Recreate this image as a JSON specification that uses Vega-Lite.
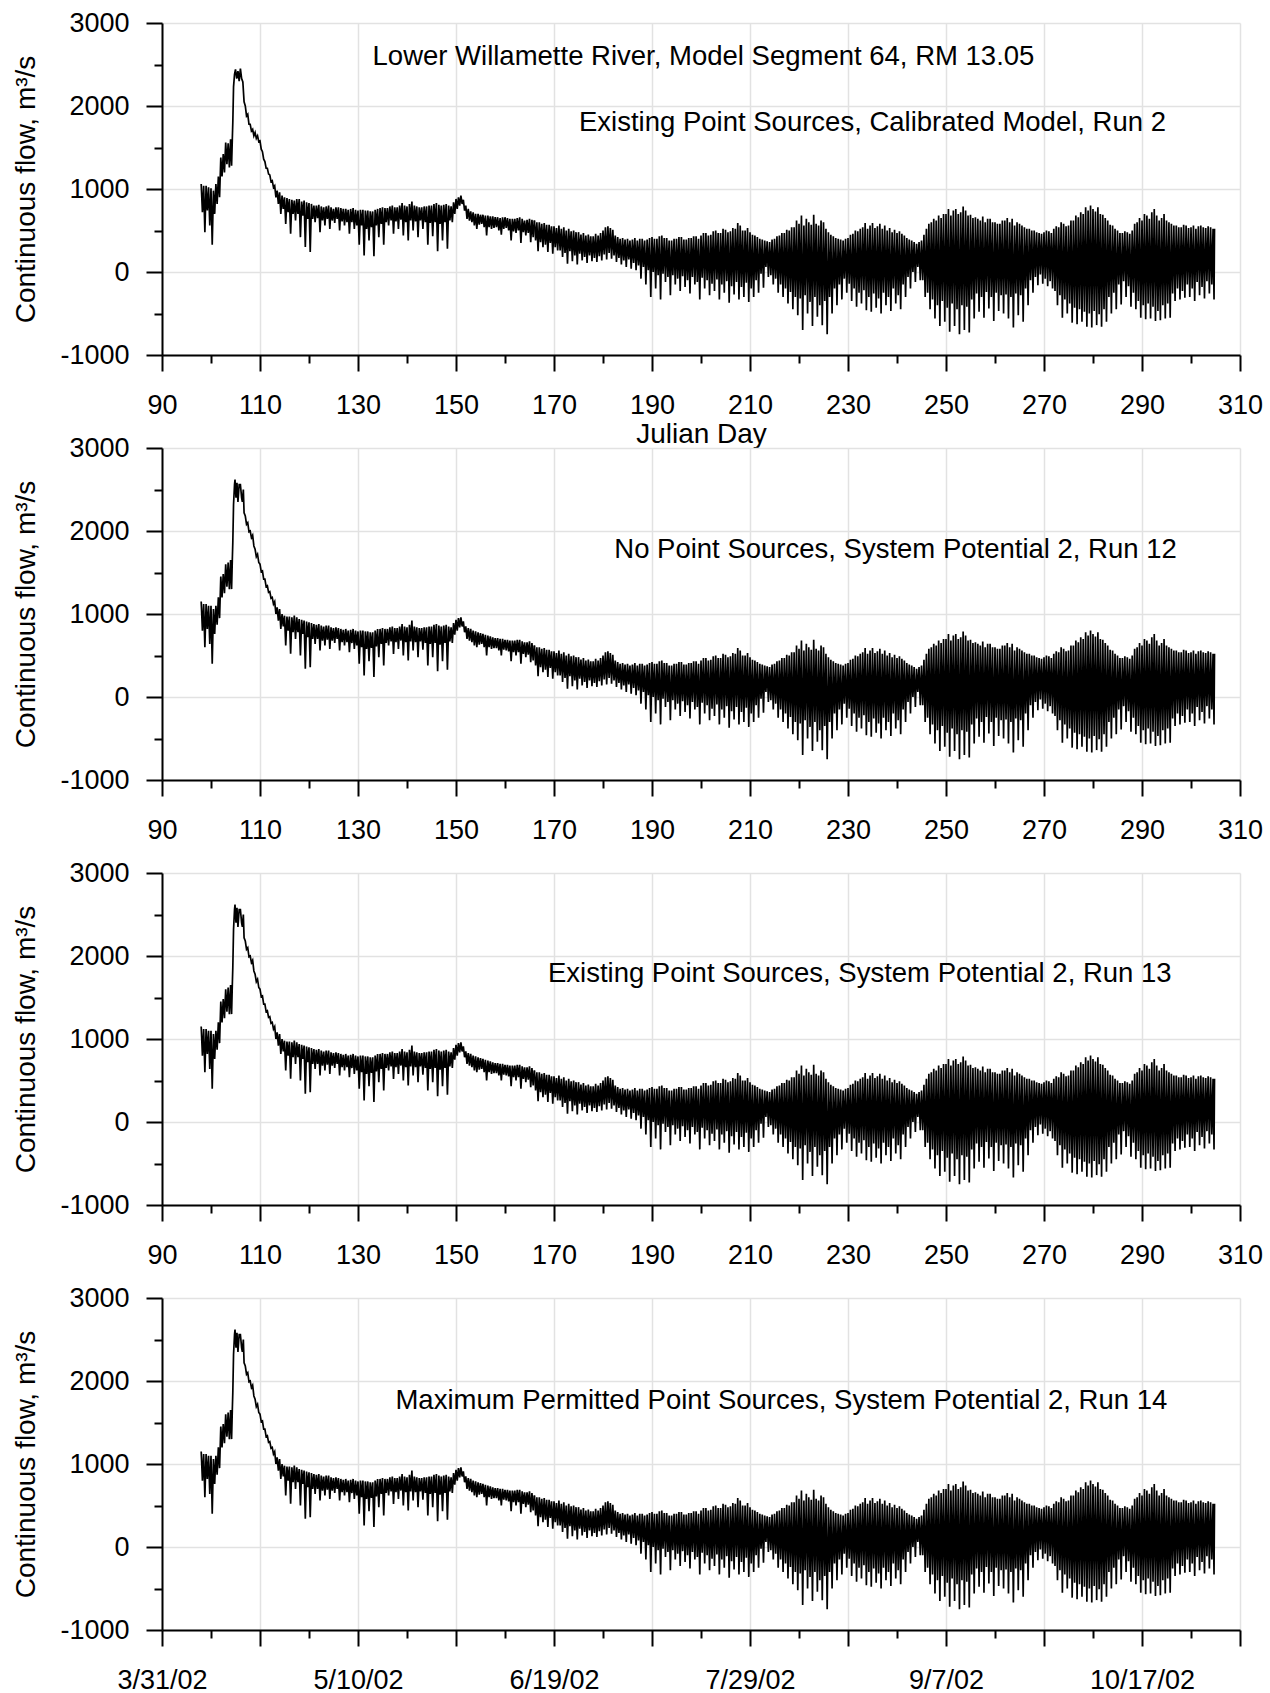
{
"$schema": "https://vega.github.io/schema/vega-lite/v6.json",
"background": "white",
"padding": {"left": 12, "top": 9, "right": 0, "bottom": 0},
"config": {
 "view": {"stroke": null},
 "axis": {"domainColor": "black", "domainWidth": 2, "tickColor": "black", "tickWidth": 2, "labelFont": "Liberation Sans", "labelFontSize": 27, "labelColor": "black", "titleFont": "Liberation Sans", "titleFontSize": 28, "titleFontWeight": "normal", "titleColor": "black", "gridColor": "#e2e2e2", "gridWidth": 1.5},
 "line": {"color": "black", "strokeWidth": 1.7},
 "text": {"font": "Liberation Sans", "fontSize": 27.5, "color": "black", "align": "center", "baseline": "middle"}
},
"datasets": {
 "run2": [
{"d":98,"q":1060},{"d":98.25,"q":720},{"d":98.5,"q":1040},{"d":98.75,"q":480},{"d":99,"q":1040},{"d":99.25,"q":740},{"d":99.5,"q":1020},{"d":99.75,"q":560},{"d":100,"q":1010},{"d":100.25,"q":330},{"d":100.5,"q":980},{"d":100.75,"q":700},{"d":101,"q":1060},{"d":101.25,"q":820},{"d":101.5,"q":1150},{"d":101.75,"q":900},{"d":102,"q":1380},{"d":102.25,"q":1150},{"d":102.5,"q":1420},{"d":102.75,"q":1200},{"d":103,"q":1560},{"d":103.25,"q":1300},{"d":103.5,"q":1550},{"d":103.75,"q":1260},{"d":104,"q":1600},{"d":104.2,"q":1280},{"d":104.35,"q":1600},{"d":104.45,"q":1800},{"d":104.6,"q":2230},{"d":104.8,"q":2380},{"d":105,"q":2440},{"d":105.25,"q":2330},{"d":105.5,"q":2420},{"d":105.75,"q":2300},{"d":106,"q":2450},{"d":106.25,"q":2330},{"d":106.5,"q":2290},{"d":106.75,"q":2050},{"d":107,"q":2000},{"d":107.25,"q":1880},{"d":107.5,"q":1900},{"d":107.75,"q":1780},{"d":108,"q":1780},{"d":108.25,"q":1700},{"d":108.5,"q":1720},{"d":108.75,"q":1640},{"d":109,"q":1680},{"d":109.25,"q":1610},{"d":109.5,"q":1640},{"d":109.75,"q":1570},{"d":110,"q":1580},{"d":110.25,"q":1480},{"d":110.5,"q":1450},{"d":110.75,"q":1360},{"d":111,"q":1330},{"d":111.25,"q":1250},{"d":111.5,"q":1250},{"d":111.75,"q":1180},{"d":112,"q":1170},{"d":112.25,"q":1090},{"d":112.5,"q":1100},{"d":112.75,"q":1020},{"d":113,"q":1040},{"d":113.25,"q":900},{"d":113.5,"q":980},{"d":113.75,"q":820},{"d":114,"q":960},{"d":114.25,"q":700},{"d":114.5,"q":920},{"d":114.75,"q":760},{"d":115,"q":900},{"d":115.25,"q":580},{"d":115.5,"q":890},{"d":115.75,"q":720},{"d":116,"q":880},{"d":116.25,"q":460},{"d":116.5,"q":870},{"d":116.75,"q":700},{"d":117,"q":860},{"d":117.25,"q":620},{"d":117.5,"q":880},{"d":117.75,"q":700},{"d":118,"q":880},{"d":118.25,"q":420},{"d":118.5,"q":850},{"d":118.75,"q":680},{"d":119,"q":860},{"d":119.25,"q":300},{"d":119.5,"q":840},{"d":119.75,"q":640},{"d":120,"q":830},{"d":120.25,"q":240},{"d":120.5,"q":820},{"d":120.75,"q":640},{"d":121,"q":800},{"d":121.25,"q":600},{"d":121.5,"q":800},{"d":121.75,"q":650},{"d":122,"q":810},{"d":122.25,"q":480},{"d":122.5,"q":790},{"d":122.75,"q":620},{"d":123,"q":780},{"d":123.25,"q":560},{"d":123.5,"q":790},{"d":123.75,"q":640},{"d":124,"q":800},{"d":124.25,"q":520},{"d":124.5,"q":780},{"d":124.75,"q":620},{"d":125,"q":760},{"d":125.25,"q":590},{"d":125.5,"q":780},{"d":125.75,"q":640},{"d":126,"q":780},{"d":126.25,"q":500},{"d":126.5,"q":770},{"d":126.75,"q":610},{"d":127,"q":760},{"d":127.25,"q":560},{"d":127.5,"q":760},{"d":127.75,"q":600},{"d":128,"q":750},{"d":128.25,"q":460},{"d":128.5,"q":760},{"d":128.75,"q":600},{"d":129,"q":770},{"d":129.25,"q":520},{"d":129.5,"q":750},{"d":129.75,"q":560},{"d":130,"q":740},{"d":130.25,"q":330},{"d":130.5,"q":750},{"d":130.75,"q":560},{"d":131,"q":750},{"d":131.25,"q":200},{"d":131.5,"q":740},{"d":131.75,"q":520},{"d":132,"q":740},{"d":132.25,"q":380},{"d":132.5,"q":730},{"d":132.75,"q":540},{"d":133,"q":730},{"d":133.25,"q":190},{"d":133.5,"q":750},{"d":133.75,"q":560},{"d":134,"q":760},{"d":134.25,"q":420},{"d":134.5,"q":770},{"d":134.75,"q":580},{"d":135,"q":780},{"d":135.25,"q":330},{"d":135.5,"q":770},{"d":135.75,"q":600},{"d":136,"q":770},{"d":136.25,"q":560},{"d":136.5,"q":790},{"d":136.75,"q":620},{"d":137,"q":800},{"d":137.25,"q":460},{"d":137.5,"q":780},{"d":137.75,"q":610},{"d":138,"q":780},{"d":138.25,"q":520},{"d":138.5,"q":800},{"d":138.75,"q":630},{"d":139,"q":830},{"d":139.25,"q":440},{"d":139.5,"q":800},{"d":139.75,"q":600},{"d":140,"q":790},{"d":140.25,"q":380},{"d":140.5,"q":820},{"d":140.75,"q":620},{"d":141,"q":850},{"d":141.25,"q":500},{"d":141.5,"q":800},{"d":141.75,"q":610},{"d":142,"q":790},{"d":142.25,"q":420},{"d":142.5,"q":780},{"d":142.75,"q":620},{"d":143,"q":780},{"d":143.25,"q":520},{"d":143.5,"q":790},{"d":143.75,"q":600},{"d":144,"q":790},{"d":144.25,"q":330},{"d":144.5,"q":800},{"d":144.75,"q":590},{"d":145,"q":800},{"d":145.25,"q":430},{"d":145.5,"q":820},{"d":145.75,"q":600},{"d":146,"q":830},{"d":146.25,"q":250},{"d":146.5,"q":810},{"d":146.75,"q":580},{"d":147,"q":800},{"d":147.25,"q":380},{"d":147.5,"q":810},{"d":147.75,"q":600},{"d":148,"q":820},{"d":148.25,"q":280},{"d":148.5,"q":800},{"d":148.75,"q":620},{"d":149,"q":790},{"d":149.25,"q":600},{"d":149.5,"q":840},{"d":149.75,"q":700},{"d":150,"q":880},{"d":150.25,"q":760},{"d":150.5,"q":900},{"d":150.75,"q":800},{"d":151,"q":920},{"d":151.25,"q":820},{"d":151.5,"q":870},{"d":151.75,"q":740},{"d":152,"q":800},{"d":152.25,"q":640},{"d":152.5,"q":760},{"d":152.75,"q":620},{"d":153,"q":730},{"d":153.25,"q":600},{"d":153.5,"q":720},{"d":153.75,"q":560},{"d":154,"q":700},{"d":154.25,"q":520},{"d":154.5,"q":700},{"d":154.75,"q":570},{"d":155,"q":690},{"d":155.25,"q":580},{"d":155.5,"q":690},{"d":155.75,"q":540},{"d":156,"q":680},{"d":156.25,"q":440},{"d":156.5,"q":680},{"d":156.75,"q":540},{"d":157,"q":670},{"d":157.25,"q":520},{"d":157.5,"q":670},{"d":157.75,"q":530},{"d":158,"q":660},{"d":158.25,"q":540},{"d":158.5,"q":660},{"d":158.75,"q":500},{"d":159,"q":650},{"d":159.25,"q":450},{"d":159.5,"q":660},{"d":159.75,"q":520},{"d":160,"q":660},{"d":160.25,"q":530},{"d":160.5,"q":650},{"d":160.75,"q":500},{"d":161,"q":640},{"d":161.25,"q":380},{"d":161.5,"q":640},{"d":161.75,"q":490},{"d":162,"q":640},{"d":162.25,"q":470},{"d":162.5,"q":650},{"d":162.75,"q":500},{"d":163,"q":660},{"d":163.25,"q":350},{"d":163.5,"q":640},{"d":163.75,"q":480},{"d":164,"q":620},{"d":164.25,"q":440},{"d":164.5,"q":630},{"d":164.75,"q":470},{"d":165,"q":640},{"d":165.25,"q":360},{"d":165.5,"q":630},{"d":165.75,"q":420},{"d":166,"q":620}
 ],
 "sp2": [
{"d":98,"q":1150},{"d":98.25,"q":800},{"d":98.5,"q":1120},{"d":98.75,"q":600},{"d":99,"q":1120},{"d":99.25,"q":820},{"d":99.5,"q":1100},{"d":99.75,"q":640},{"d":100,"q":1100},{"d":100.25,"q":400},{"d":100.5,"q":1060},{"d":100.75,"q":760},{"d":101,"q":1100},{"d":101.25,"q":870},{"d":101.5,"q":1200},{"d":101.75,"q":950},{"d":102,"q":1450},{"d":102.25,"q":1200},{"d":102.5,"q":1480},{"d":102.75,"q":1250},{"d":103,"q":1600},{"d":103.25,"q":1330},{"d":103.5,"q":1620},{"d":103.75,"q":1300},{"d":104,"q":1650},{"d":104.2,"q":1300},{"d":104.35,"q":1650},{"d":104.45,"q":1860},{"d":104.6,"q":2320},{"d":104.8,"q":2560},{"d":104.9,"q":2620},{"d":105.1,"q":2400},{"d":105.3,"q":2580},{"d":105.5,"q":2350},{"d":105.75,"q":2560},{"d":106,"q":2560},{"d":106.25,"q":2400},{"d":106.4,"q":2350},{"d":106.6,"q":2500},{"d":106.75,"q":2220},{"d":107,"q":2180},{"d":107.25,"q":2080},{"d":107.5,"q":2100},{"d":107.75,"q":1990},{"d":108,"q":2000},{"d":108.25,"q":1920},{"d":108.5,"q":1950},{"d":108.75,"q":1820},{"d":109,"q":1780},{"d":109.25,"q":1690},{"d":109.5,"q":1720},{"d":109.75,"q":1620},{"d":110,"q":1600},{"d":110.25,"q":1510},{"d":110.5,"q":1520},{"d":110.75,"q":1420},{"d":111,"q":1420},{"d":111.25,"q":1330},{"d":111.5,"q":1340},{"d":111.75,"q":1260},{"d":112,"q":1270},{"d":112.25,"q":1190},{"d":112.5,"q":1200},{"d":112.75,"q":1120},{"d":113,"q":1150},{"d":113.25,"q":1000},{"d":113.5,"q":1080},{"d":113.75,"q":920},{"d":114,"q":1060},{"d":114.25,"q":820},{"d":114.5,"q":1000},{"d":114.75,"q":850},{"d":115,"q":980},{"d":115.25,"q":620},{"d":115.5,"q":970},{"d":115.75,"q":800},{"d":116,"q":970},{"d":116.25,"q":520},{"d":116.5,"q":960},{"d":116.75,"q":780},{"d":117,"q":980},{"d":117.25,"q":700},{"d":117.5,"q":960},{"d":117.75,"q":780},{"d":118,"q":940},{"d":118.25,"q":500},{"d":118.5,"q":930},{"d":118.75,"q":760},{"d":119,"q":920},{"d":119.25,"q":340},{"d":119.5,"q":910},{"d":119.75,"q":720},{"d":120,"q":900},{"d":120.25,"q":360},{"d":120.5,"q":890},{"d":120.75,"q":700},{"d":121,"q":880},{"d":121.25,"q":640},{"d":121.5,"q":870},{"d":121.75,"q":700},{"d":122,"q":880},{"d":122.25,"q":560},{"d":122.5,"q":860},{"d":122.75,"q":680},{"d":123,"q":850},{"d":123.25,"q":620},{"d":123.5,"q":860},{"d":123.75,"q":690},{"d":124,"q":860},{"d":124.25,"q":580},{"d":124.5,"q":840},{"d":124.75,"q":680},{"d":125,"q":830},{"d":125.25,"q":650},{"d":125.5,"q":840},{"d":125.75,"q":700},{"d":126,"q":830},{"d":126.25,"q":560},{"d":126.5,"q":820},{"d":126.75,"q":660},{"d":127,"q":810},{"d":127.25,"q":620},{"d":127.5,"q":820},{"d":127.75,"q":660},{"d":128,"q":800},{"d":128.25,"q":540},{"d":128.5,"q":810},{"d":128.75,"q":650},{"d":129,"q":820},{"d":129.25,"q":580},{"d":129.5,"q":800},{"d":129.75,"q":620},{"d":130,"q":790},{"d":130.25,"q":400},{"d":130.5,"q":800},{"d":130.75,"q":600},{"d":131,"q":800},{"d":131.25,"q":260},{"d":131.5,"q":790},{"d":131.75,"q":580},{"d":132,"q":790},{"d":132.25,"q":430},{"d":132.5,"q":780},{"d":132.75,"q":590},{"d":133,"q":780},{"d":133.25,"q":240},{"d":133.5,"q":800},{"d":133.75,"q":610},{"d":134,"q":820},{"d":134.25,"q":480},{"d":134.5,"q":820},{"d":134.75,"q":640},{"d":135,"q":830},{"d":135.25,"q":380},{"d":135.5,"q":820},{"d":135.75,"q":650},{"d":136,"q":820},{"d":136.25,"q":620},{"d":136.5,"q":840},{"d":136.75,"q":670},{"d":137,"q":850},{"d":137.25,"q":520},{"d":137.5,"q":830},{"d":137.75,"q":660},{"d":138,"q":830},{"d":138.25,"q":580},{"d":138.5,"q":850},{"d":138.75,"q":680},{"d":139,"q":880},{"d":139.25,"q":500},{"d":139.5,"q":850},{"d":139.75,"q":660},{"d":140,"q":840},{"d":140.25,"q":440},{"d":140.5,"q":870},{"d":140.75,"q":670},{"d":141,"q":920},{"d":141.25,"q":560},{"d":141.5,"q":850},{"d":141.75,"q":660},{"d":142,"q":840},{"d":142.25,"q":480},{"d":142.5,"q":830},{"d":142.75,"q":670},{"d":143,"q":830},{"d":143.25,"q":570},{"d":143.5,"q":840},{"d":143.75,"q":650},{"d":144,"q":840},{"d":144.25,"q":380},{"d":144.5,"q":850},{"d":144.75,"q":640},{"d":145,"q":850},{"d":145.25,"q":480},{"d":145.5,"q":870},{"d":145.75,"q":650},{"d":146,"q":880},{"d":146.25,"q":310},{"d":146.5,"q":860},{"d":146.75,"q":630},{"d":147,"q":850},{"d":147.25,"q":430},{"d":147.5,"q":860},{"d":147.75,"q":650},{"d":148,"q":870},{"d":148.25,"q":330},{"d":148.5,"q":850},{"d":148.75,"q":670},{"d":149,"q":840},{"d":149.25,"q":650},{"d":149.5,"q":890},{"d":149.75,"q":750},{"d":150,"q":930},{"d":150.25,"q":800},{"d":150.5,"q":950},{"d":150.75,"q":840},{"d":151,"q":960},{"d":151.25,"q":850},{"d":151.5,"q":910},{"d":151.75,"q":780},{"d":152,"q":850},{"d":152.25,"q":700},{"d":152.5,"q":830},{"d":152.75,"q":680},{"d":153,"q":820},{"d":153.25,"q":660},{"d":153.5,"q":800},{"d":153.75,"q":620},{"d":154,"q":790},{"d":154.25,"q":600},{"d":154.5,"q":780},{"d":154.75,"q":630},{"d":155,"q":770},{"d":155.25,"q":640},{"d":155.5,"q":760},{"d":155.75,"q":600},{"d":156,"q":750},{"d":156.25,"q":500},{"d":156.5,"q":740},{"d":156.75,"q":600},{"d":157,"q":730},{"d":157.25,"q":580},{"d":157.5,"q":720},{"d":157.75,"q":590},{"d":158,"q":710},{"d":158.25,"q":590},{"d":158.5,"q":710},{"d":158.75,"q":560},{"d":159,"q":700},{"d":159.25,"q":500},{"d":159.5,"q":700},{"d":159.75,"q":570},{"d":160,"q":690},{"d":160.25,"q":560},{"d":160.5,"q":690},{"d":160.75,"q":550},{"d":161,"q":680},{"d":161.25,"q":430},{"d":161.5,"q":680},{"d":161.75,"q":540},{"d":162,"q":680},{"d":162.25,"q":500},{"d":162.5,"q":690},{"d":162.75,"q":540},{"d":163,"q":690},{"d":163.25,"q":400},{"d":163.5,"q":670},{"d":163.75,"q":520},{"d":164,"q":660},{"d":164.25,"q":480},{"d":164.5,"q":660},{"d":164.75,"q":510},{"d":165,"q":670},{"d":165.25,"q":420},{"d":165.5,"q":650},{"d":165.75,"q":440},{"d":166,"q":620}
 ],
 "late": [
{"d":166,"q":620},{"d":166.25,"q":380},{"d":166.5,"q":600},{"d":166.75,"q":250},{"d":167,"q":600},{"d":167.25,"q":360},{"d":167.5,"q":580},{"d":167.75,"q":300},{"d":168,"q":590},{"d":168.25,"q":330},{"d":168.5,"q":570},{"d":168.75,"q":240},{"d":169,"q":570},{"d":169.25,"q":350},{"d":169.5,"q":550},{"d":169.75,"q":220},{"d":170,"q":550},{"d":170.25,"q":300},{"d":170.5,"q":530},{"d":170.75,"q":260},{"d":171,"q":560},{"d":171.25,"q":260},{"d":171.5,"q":520},{"d":171.75,"q":180},{"d":172,"q":540},{"d":172.25,"q":230},{"d":172.5,"q":500},{"d":172.75,"q":100},{"d":173,"q":520},{"d":173.25,"q":250},{"d":173.5,"q":490},{"d":173.75,"q":130},{"d":174,"q":500},{"d":174.25,"q":200},{"d":174.5,"q":480},{"d":174.75,"q":90},{"d":175,"q":480},{"d":175.25,"q":220},{"d":175.5,"q":450},{"d":175.75,"q":140},{"d":176,"q":470},{"d":176.25,"q":180},{"d":176.5,"q":440},{"d":176.75,"q":110},{"d":177,"q":450},{"d":177.25,"q":200},{"d":177.5,"q":430},{"d":177.75,"q":130},{"d":178,"q":430},{"d":178.25,"q":170},{"d":178.5,"q":460},{"d":178.75,"q":120},{"d":179,"q":440},{"d":179.25,"q":190},{"d":179.5,"q":470},{"d":179.75,"q":140},{"d":180,"q":500},{"d":180.25,"q":210},{"d":180.5,"q":540},{"d":180.75,"q":150},{"d":181,"q":550},{"d":181.25,"q":230},{"d":181.5,"q":530},{"d":181.75,"q":160},{"d":182,"q":510},{"d":182.25,"q":200},{"d":182.5,"q":440},{"d":182.75,"q":120},{"d":183,"q":420},{"d":183.25,"q":170},{"d":183.5,"q":400},{"d":183.75,"q":90},{"d":184,"q":410},{"d":184.25,"q":140},{"d":184.5,"q":390},{"d":184.75,"q":60},{"d":185,"q":400},{"d":185.25,"q":150},{"d":185.5,"q":380},{"d":185.75,"q":40},{"d":186,"q":390},{"d":186.25,"q":110},{"d":186.5,"q":410},{"d":186.75,"q":20},{"d":187,"q":380},{"d":187.25,"q":80},{"d":187.5,"q":400},{"d":187.75,"q":-80},{"d":188,"q":400},{"d":188.25,"q":60},{"d":188.5,"q":380},{"d":188.75,"q":-150},{"d":189,"q":390},{"d":189.25,"q":20},{"d":189.5,"q":410},{"d":189.75,"q":-300},{"d":190,"q":420},{"d":190.25,"q":0},{"d":190.5,"q":400},{"d":190.75,"q":-200},{"d":191,"q":400},{"d":191.25,"q":-40},{"d":191.5,"q":430},{"d":191.75,"q":-330},{"d":192,"q":440},{"d":192.25,"q":-20},{"d":192.5,"q":410},{"d":192.75,"q":-120},{"d":193,"q":410},{"d":193.25,"q":-60},{"d":193.5,"q":380},{"d":193.75,"q":-280},{"d":194,"q":380},{"d":194.25,"q":-40},{"d":194.5,"q":400},{"d":194.75,"q":-150},{"d":195,"q":400},{"d":195.25,"q":-80},{"d":195.5,"q":420},{"d":195.75,"q":-230},{"d":196,"q":420},{"d":196.25,"q":-50},{"d":196.5,"q":390},{"d":196.75,"q":-180},{"d":197,"q":390},{"d":197.25,"q":-100},{"d":197.5,"q":410},{"d":197.75,"q":-260},{"d":198,"q":410},{"d":198.25,"q":-60},{"d":198.5,"q":430},{"d":198.75,"q":-150},{"d":199,"q":430},{"d":199.25,"q":-120},{"d":199.5,"q":400},{"d":199.75,"q":-330},{"d":200,"q":440},{"d":200.25,"q":-70},{"d":200.5,"q":470},{"d":200.75,"q":-200},{"d":201,"q":470},{"d":201.25,"q":-100},{"d":201.5,"q":440},{"d":201.75,"q":-280},{"d":202,"q":450},{"d":202.25,"q":-140},{"d":202.5,"q":490},{"d":202.75,"q":-230},{"d":203,"q":500},{"d":203.25,"q":-90},{"d":203.5,"q":470},{"d":203.75,"q":-330},{"d":204,"q":470},{"d":204.25,"q":-150},{"d":204.5,"q":520},{"d":204.75,"q":-250},{"d":205,"q":510},{"d":205.25,"q":-110},{"d":205.5,"q":480},{"d":205.75,"q":-370},{"d":206,"q":490},{"d":206.25,"q":-170},{"d":206.5,"q":530},{"d":206.75,"q":-270},{"d":207,"q":520},{"d":207.25,"q":-120},{"d":207.5,"q":590},{"d":207.75,"q":-330},{"d":208,"q":560},{"d":208.25,"q":-180},{"d":208.5,"q":500},{"d":208.75,"q":-300},{"d":209,"q":500},{"d":209.25,"q":-130},{"d":209.5,"q":530},{"d":209.75,"q":-360},{"d":210,"q":480},{"d":210.25,"q":-200},{"d":210.5,"q":450},{"d":210.75,"q":-300},{"d":211,"q":440},{"d":211.25,"q":-100},{"d":211.5,"q":420},{"d":211.75,"q":-250},{"d":212,"q":400},{"d":212.25,"q":-20},{"d":212.5,"q":390},{"d":212.75,"q":-190},{"d":213,"q":380},{"d":213.25,"q":60},{"d":213.5,"q":370},{"d":213.75,"q":-60},{"d":214,"q":360},{"d":214.25,"q":-40},{"d":214.5,"q":390},{"d":214.75,"q":-150},{"d":215,"q":400},{"d":215.25,"q":-80},{"d":215.5,"q":430},{"d":215.75,"q":-250},{"d":216,"q":440},{"d":216.25,"q":-150},{"d":216.5,"q":470},{"d":216.75,"q":-300},{"d":217,"q":470},{"d":217.25,"q":-200},{"d":217.5,"q":510},{"d":217.75,"q":-380},{"d":218,"q":500},{"d":218.25,"q":-240},{"d":218.5,"q":540},{"d":218.75,"q":-450},{"d":219,"q":540},{"d":219.25,"q":-300},{"d":219.5,"q":620},{"d":219.75,"q":-520},{"d":220,"q":580},{"d":220.25,"q":-320},{"d":220.5,"q":680},{"d":220.75,"q":-700},{"d":221,"q":560},{"d":221.25,"q":-280},{"d":221.5,"q":640},{"d":221.75,"q":-500},{"d":222,"q":600},{"d":222.25,"q":-360},{"d":222.5,"q":570},{"d":222.75,"q":-650},{"d":223,"q":690},{"d":223.25,"q":-300},{"d":223.5,"q":580},{"d":223.75,"q":-540},{"d":224,"q":560},{"d":224.25,"q":-400},{"d":224.5,"q":620},{"d":224.75,"q":-640},{"d":225,"q":600},{"d":225.25,"q":-350},{"d":225.5,"q":520},{"d":225.75,"q":-750},{"d":226,"q":480},{"d":226.25,"q":-300},{"d":226.5,"q":450},{"d":226.75,"q":-500},{"d":227,"q":430},{"d":227.25,"q":-200},{"d":227.5,"q":410},{"d":227.75,"q":-400},{"d":228,"q":400},{"d":228.25,"q":-150},{"d":228.5,"q":390},{"d":228.75,"q":-330},{"d":229,"q":380},{"d":229.25,"q":-80},{"d":229.5,"q":400},{"d":229.75,"q":-250},{"d":230,"q":410},{"d":230.25,"q":-140},{"d":230.5,"q":450},{"d":230.75,"q":-350},{"d":231,"q":460},{"d":231.25,"q":-200},{"d":231.5,"q":500},{"d":231.75,"q":-420},{"d":232,"q":490},{"d":232.25,"q":-250},{"d":232.5,"q":520},{"d":232.75,"q":-380},{"d":233,"q":540},{"d":233.25,"q":-220},{"d":233.5,"q":590},{"d":233.75,"q":-460},{"d":234,"q":520},{"d":234.25,"q":-300},{"d":234.5,"q":560},{"d":234.75,"q":-480},{"d":235,"q":590},{"d":235.25,"q":-260},{"d":235.5,"q":530},{"d":235.75,"q":-430},{"d":236,"q":550},{"d":236.25,"q":-320},{"d":236.5,"q":580},{"d":236.75,"q":-500},{"d":237,"q":520},{"d":237.25,"q":-250},{"d":237.5,"q":560},{"d":237.75,"q":-400},{"d":238,"q":500},{"d":238.25,"q":-300},{"d":238.5,"q":530},{"d":238.75,"q":-470},{"d":239,"q":480},{"d":239.25,"q":-200},{"d":239.5,"q":510},{"d":239.75,"q":-380},{"d":240,"q":470},{"d":240.25,"q":-280},{"d":240.5,"q":490},{"d":240.75,"q":-450},{"d":241,"q":460},{"d":241.25,"q":-150},{"d":241.5,"q":440},{"d":241.75,"q":-300},{"d":242,"q":410},{"d":242.25,"q":-60},{"d":242.5,"q":390},{"d":242.75,"q":-200},{"d":243,"q":380},{"d":243.25,"q":0},{"d":243.5,"q":360},{"d":243.75,"q":-120},{"d":244,"q":340},{"d":244.25,"q":60},{"d":244.5,"q":360},{"d":244.75,"q":-100},{"d":245,"q":380},{"d":245.25,"q":-100},{"d":245.5,"q":450},{"d":245.75,"q":-300},{"d":246,"q":520},{"d":246.25,"q":-250},{"d":246.5,"q":580},{"d":246.75,"q":-450},{"d":247,"q":600},{"d":247.25,"q":-330},{"d":247.5,"q":640},{"d":247.75,"q":-560},{"d":248,"q":620},{"d":248.25,"q":-400},{"d":248.5,"q":680},{"d":248.75,"q":-650},{"d":249,"q":650},{"d":249.25,"q":-350},{"d":249.5,"q":700},{"d":249.75,"q":-600},{"d":250,"q":700},{"d":250.25,"q":-430},{"d":250.5,"q":760},{"d":250.75,"q":-720},{"d":251,"q":680},{"d":251.25,"q":-380},{"d":251.5,"q":740},{"d":251.75,"q":-650},{"d":252,"q":760},{"d":252.25,"q":-450},{"d":252.5,"q":700},{"d":252.75,"q":-750},{"d":253,"q":720},{"d":253.25,"q":-400},{"d":253.5,"q":790},{"d":253.75,"q":-700},{"d":254,"q":740},{"d":254.25,"q":-420},{"d":254.5,"q":680},{"d":254.75,"q":-730},{"d":255,"q":690},{"d":255.25,"q":-330},{"d":255.5,"q":650},{"d":255.75,"q":-560},{"d":256,"q":660},{"d":256.25,"q":-260},{"d":256.5,"q":640},{"d":256.75,"q":-480},{"d":257,"q":620},{"d":257.25,"q":-300},{"d":257.5,"q":670},{"d":257.75,"q":-550},{"d":258,"q":600},{"d":258.25,"q":-240},{"d":258.5,"q":640},{"d":258.75,"q":-440},{"d":259,"q":640},{"d":259.25,"q":-300},{"d":259.5,"q":600},{"d":259.75,"q":-590},{"d":260,"q":600},{"d":260.25,"q":-250},{"d":260.5,"q":580},{"d":260.75,"q":-470},{"d":261,"q":580},{"d":261.25,"q":-280},{"d":261.5,"q":620},{"d":261.75,"q":-500},{"d":262,"q":620},{"d":262.25,"q":-270},{"d":262.5,"q":650},{"d":262.75,"q":-560},{"d":263,"q":600},{"d":263.25,"q":-300},{"d":263.5,"q":640},{"d":263.75,"q":-670},{"d":264,"q":560},{"d":264.25,"q":-260},{"d":264.5,"q":600},{"d":264.75,"q":-520},{"d":265,"q":580},{"d":265.25,"q":-280},{"d":265.5,"q":560},{"d":265.75,"q":-600},{"d":266,"q":540},{"d":266.25,"q":-200},{"d":266.5,"q":520},{"d":266.75,"q":-400},{"d":267,"q":520},{"d":267.25,"q":-100},{"d":267.5,"q":500},{"d":267.75,"q":-250},{"d":268,"q":500},{"d":268.25,"q":-60},{"d":268.5,"q":480},{"d":268.75,"q":-160},{"d":269,"q":470},{"d":269.25,"q":-30},{"d":269.5,"q":460},{"d":269.75,"q":-140},{"d":270,"q":480},{"d":270.25,"q":-80},{"d":270.5,"q":500},{"d":270.75,"q":-170},{"d":271,"q":490},{"d":271.25,"q":-110},{"d":271.5,"q":470},{"d":271.75,"q":-200},{"d":272,"q":520},{"d":272.25,"q":-230},{"d":272.5,"q":550},{"d":272.75,"q":-400},{"d":273,"q":540},{"d":273.25,"q":-280},{"d":273.5,"q":600},{"d":273.75,"q":-550},{"d":274,"q":580},{"d":274.25,"q":-330},{"d":274.5,"q":550},{"d":274.75,"q":-500},{"d":275,"q":560},{"d":275.25,"q":-380},{"d":275.5,"q":620},{"d":275.75,"q":-610},{"d":276,"q":620},{"d":276.25,"q":-430},{"d":276.5,"q":680},{"d":276.75,"q":-630},{"d":277,"q":660},{"d":277.25,"q":-450},{"d":277.5,"q":720},{"d":277.75,"q":-600},{"d":278,"q":700},{"d":278.25,"q":-480},{"d":278.5,"q":780},{"d":278.75,"q":-660},{"d":279,"q":740},{"d":279.25,"q":-500},{"d":279.5,"q":800},{"d":279.75,"q":-670},{"d":280,"q":760},{"d":280.25,"q":-470},{"d":280.5,"q":730},{"d":280.75,"q":-640},{"d":281,"q":780},{"d":281.25,"q":-510},{"d":281.5,"q":700},{"d":281.75,"q":-660},{"d":282,"q":690},{"d":282.25,"q":-450},{"d":282.5,"q":650},{"d":282.75,"q":-600},{"d":283,"q":620},{"d":283.25,"q":-300},{"d":283.5,"q":570},{"d":283.75,"q":-500},{"d":284,"q":560},{"d":284.25,"q":-250},{"d":284.5,"q":520},{"d":284.75,"q":-450},{"d":285,"q":500},{"d":285.25,"q":-150},{"d":285.5,"q":470},{"d":285.75,"q":-390},{"d":286,"q":470},{"d":286.25,"q":-110},{"d":286.5,"q":490},{"d":286.75,"q":-300},{"d":287,"q":480},{"d":287.25,"q":-170},{"d":287.5,"q":460},{"d":287.75,"q":-420},{"d":288,"q":500},{"d":288.25,"q":-250},{"d":288.5,"q":580},{"d":288.75,"q":-450},{"d":289,"q":600},{"d":289.25,"q":-350},{"d":289.5,"q":650},{"d":289.75,"q":-550},{"d":290,"q":620},{"d":290.25,"q":-400},{"d":290.5,"q":700},{"d":290.75,"q":-570},{"d":291,"q":680},{"d":291.25,"q":-380},{"d":291.5,"q":640},{"d":291.75,"q":-560},{"d":292,"q":720},{"d":292.25,"q":-420},{"d":292.5,"q":760},{"d":292.75,"q":-590},{"d":293,"q":680},{"d":293.25,"q":-470},{"d":293.5,"q":620},{"d":293.75,"q":-580},{"d":294,"q":650},{"d":294.25,"q":-400},{"d":294.5,"q":700},{"d":294.75,"q":-560},{"d":295,"q":620},{"d":295.25,"q":-380},{"d":295.5,"q":600},{"d":295.75,"q":-550},{"d":296,"q":580},{"d":296.25,"q":-260},{"d":296.5,"q":560},{"d":296.75,"q":-350},{"d":297,"q":560},{"d":297.25,"q":-200},{"d":297.5,"q":540},{"d":297.75,"q":-330},{"d":298,"q":540},{"d":298.25,"q":-230},{"d":298.5,"q":570},{"d":298.75,"q":-310},{"d":299,"q":560},{"d":299.25,"q":-150},{"d":299.5,"q":530},{"d":299.75,"q":-300},{"d":300,"q":540},{"d":300.25,"q":-200},{"d":300.5,"q":560},{"d":300.75,"q":-350},{"d":301,"q":520},{"d":301.25,"q":-120},{"d":301.5,"q":550},{"d":301.75,"q":-280},{"d":302,"q":560},{"d":302.25,"q":-180},{"d":302.5,"q":540},{"d":302.75,"q":-320},{"d":303,"q":530},{"d":303.25,"q":-110},{"d":303.5,"q":550},{"d":303.75,"q":-260},{"d":304,"q":540},{"d":304.25,"q":-150},{"d":304.5,"q":520},{"d":304.7,"q":-330},{"d":304.8,"q":520}
 ]
},
"bounds": "flush",
"spacing": 93,
"vconcat": [
 {
  "width": 1078, "height": 332,
  "resolve": {"axis": {"x": "independent", "y": "independent"}},
  "layer": [
   {"data": {"name": "run2"}, "mark": "line",
    "encoding": {
     "x": {"field": "d", "type": "quantitative", "scale": {"domain": [90, 310], "nice": false, "zero": false},
      "axis": {"orient": "bottom", "values": [90,110,130,150,170,190,210,230,250,270,290,310], "tickSize": 16, "grid": true, "format": "d",
       "labelPadding": 21, "labelFlush": false, "labelOverlap": false, "title": "Julian Day", "titlePadding": 2}},
     "y": {"field": "q", "type": "quantitative", "scale": {"domain": [-1000, 3000], "nice": false, "zero": false},
      "axis": {"orient": "left", "values": [-1000,0,1000,2000,3000], "tickSize": 16, "grid": true,
       "labelExpr": "'' + datum.value",
       "labelPadding": 17, "labelOverlap": false, "title": "Continuous flow, m³/s", "titlePadding": 19}}
    }},
   {"data": {"name": "late"}, "mark": "line",
    "encoding": {
     "x": {"field": "d", "type": "quantitative", "axis": {"orient": "bottom", "values": [100,120,140,160,180,200,220,240,260,280,300], "tickSize": 8, "grid": false, "labels": false, "domain": false, "title": null}},
     "y": {"field": "q", "type": "quantitative", "axis": {"orient": "left", "values": [-500,500,1500,2500], "tickSize": 8, "grid": false, "labels": false, "domain": false, "title": null}}}},
   {"data": {"values": [{"t": "Lower Willamette River, Model Segment 64, RM 13.05"}]}, "mark": "text",
    "encoding": {"x": {"datum": 200.5, "type": "quantitative", "axis": null}, "y": {"datum": 2590, "type": "quantitative", "axis": null}, "text": {"field": "t"}}},
   {"data": {"values": [{"t": "Existing Point Sources, Calibrated Model, Run 2"}]}, "mark": "text",
    "encoding": {"x": {"datum": 235, "type": "quantitative", "axis": null}, "y": {"datum": 1790, "type": "quantitative", "axis": null}, "text": {"field": "t"}}}
  ]
 },
 {
  "width": 1078, "height": 332,
  "resolve": {"axis": {"x": "independent", "y": "independent"}},
  "layer": [
   {"data": {"name": "sp2"}, "mark": "line",
    "encoding": {
     "x": {"field": "d", "type": "quantitative", "scale": {"domain": [90, 310], "nice": false, "zero": false},
      "axis": {"orient": "bottom", "values": [90,110,130,150,170,190,210,230,250,270,290,310], "tickSize": 16, "grid": true, "format": "d",
       "labelPadding": 21, "labelFlush": false, "labelOverlap": false, "title": null}},
     "y": {"field": "q", "type": "quantitative", "scale": {"domain": [-1000, 3000], "nice": false, "zero": false},
      "axis": {"orient": "left", "values": [-1000,0,1000,2000,3000], "tickSize": 16, "grid": true,
       "labelExpr": "'' + datum.value",
       "labelPadding": 17, "labelOverlap": false, "title": "Continuous flow, m³/s", "titlePadding": 19}}
    }},
   {"data": {"name": "late"}, "mark": "line",
    "encoding": {
     "x": {"field": "d", "type": "quantitative", "axis": {"orient": "bottom", "values": [100,120,140,160,180,200,220,240,260,280,300], "tickSize": 8, "grid": false, "labels": false, "domain": false, "title": null}},
     "y": {"field": "q", "type": "quantitative", "axis": {"orient": "left", "values": [-500,500,1500,2500], "tickSize": 8, "grid": false, "labels": false, "domain": false, "title": null}}}},
   {"data": {"values": [{"t": "No Point Sources, System Potential 2, Run 12"}]}, "mark": "text",
    "encoding": {"x": {"datum": 239.7, "type": "quantitative", "axis": null}, "y": {"datum": 1770, "type": "quantitative", "axis": null}, "text": {"field": "t"}}}
  ]
 },
 {
  "width": 1078, "height": 332,
  "resolve": {"axis": {"x": "independent", "y": "independent"}},
  "layer": [
   {"data": {"name": "sp2"}, "mark": "line",
    "encoding": {
     "x": {"field": "d", "type": "quantitative", "scale": {"domain": [90, 310], "nice": false, "zero": false},
      "axis": {"orient": "bottom", "values": [90,110,130,150,170,190,210,230,250,270,290,310], "tickSize": 16, "grid": true, "format": "d",
       "labelPadding": 21, "labelFlush": false, "labelOverlap": false, "title": null}},
     "y": {"field": "q", "type": "quantitative", "scale": {"domain": [-1000, 3000], "nice": false, "zero": false},
      "axis": {"orient": "left", "values": [-1000,0,1000,2000,3000], "tickSize": 16, "grid": true,
       "labelExpr": "'' + datum.value",
       "labelPadding": 17, "labelOverlap": false, "title": "Continuous flow, m³/s", "titlePadding": 19}}
    }},
   {"data": {"name": "late"}, "mark": "line",
    "encoding": {
     "x": {"field": "d", "type": "quantitative", "axis": {"orient": "bottom", "values": [100,120,140,160,180,200,220,240,260,280,300], "tickSize": 8, "grid": false, "labels": false, "domain": false, "title": null}},
     "y": {"field": "q", "type": "quantitative", "axis": {"orient": "left", "values": [-500,500,1500,2500], "tickSize": 8, "grid": false, "labels": false, "domain": false, "title": null}}}},
   {"data": {"values": [{"t": "Existing Point Sources, System Potential 2, Run 13"}]}, "mark": "text",
    "encoding": {"x": {"datum": 232.4, "type": "quantitative", "axis": null}, "y": {"datum": 1780, "type": "quantitative", "axis": null}, "text": {"field": "t"}}}
  ]
 },
 {
  "width": 1078, "height": 332,
  "resolve": {"axis": {"x": "independent", "y": "independent"}},
  "layer": [
   {"data": {"name": "sp2"}, "mark": "line",
    "encoding": {
     "x": {"field": "d", "type": "quantitative", "scale": {"domain": [90, 310], "nice": false, "zero": false},
      "axis": {"orient": "bottom", "values": [90,110,130,150,170,190,210,230,250,270,290,310], "tickSize": 16, "grid": true,
       "labelExpr": "datum.value === 90 ? '3/31/02' : datum.value === 130 ? '5/10/02' : datum.value === 170 ? '6/19/02' : datum.value === 210 ? '7/29/02' : datum.value === 250 ? '9/7/02' : datum.value === 290 ? '10/17/02' : ''",
       "labelPadding": 21, "labelFlush": false, "labelOverlap": false, "title": null}},
     "y": {"field": "q", "type": "quantitative", "scale": {"domain": [-1000, 3000], "nice": false, "zero": false},
      "axis": {"orient": "left", "values": [-1000,0,1000,2000,3000], "tickSize": 16, "grid": true,
       "labelExpr": "'' + datum.value",
       "labelPadding": 17, "labelOverlap": false, "title": "Continuous flow, m³/s", "titlePadding": 19}}
    }},
   {"data": {"name": "late"}, "mark": "line",
    "encoding": {
     "x": {"field": "d", "type": "quantitative", "axis": {"orient": "bottom", "values": [100,120,140,160,180,200,220,240,260,280,300], "tickSize": 8, "grid": false, "labels": false, "domain": false, "title": null}},
     "y": {"field": "q", "type": "quantitative", "axis": {"orient": "left", "values": [-500,500,1500,2500], "tickSize": 8, "grid": false, "labels": false, "domain": false, "title": null}}}},
   {"data": {"values": [{"t": "Maximum Permitted Point Sources, System Potential 2, Run 14"}]}, "mark": "text",
    "encoding": {"x": {"datum": 216.4, "type": "quantitative", "axis": null}, "y": {"datum": 1760, "type": "quantitative", "axis": null}, "text": {"field": "t"}}}
  ]
 }
]
}
